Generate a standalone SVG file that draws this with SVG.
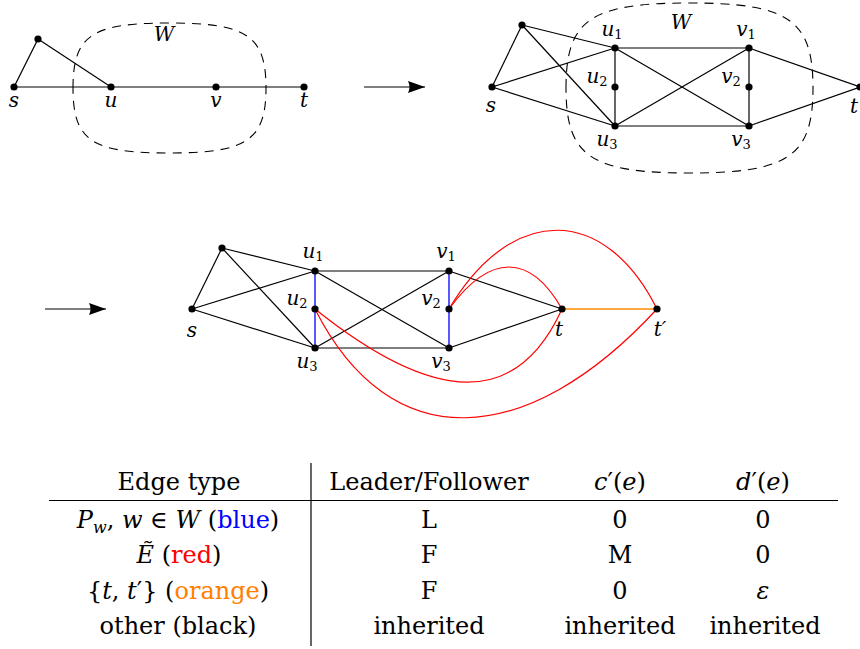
<svg xmlns="http://www.w3.org/2000/svg" width="860" height="649" viewBox="0 0 860 649">
<defs>
<marker id="ah" markerWidth="18" markerHeight="14" refX="17" refY="7" orient="auto" markerUnits="userSpaceOnUse">
<path d="M0,1 Q3,7 0,13 L17,7 Z" fill="#000"/>
</marker>
</defs>
<style>
.e{stroke:#000;stroke-width:1.2;fill:none}
.g{stroke:#555;stroke-width:1.6;fill:none}
.b{stroke:#0000ff;stroke-width:1.3;fill:none}
.r{stroke:#ff0000;stroke-width:1.2;fill:none}
.o{stroke:#ff8c00;stroke-width:1.3;fill:none}
.blob{stroke:#000;stroke-width:1.1;fill:none;stroke-dasharray:9 7}
.n{fill:#000}
.lb{font-family:'DejaVu Serif',serif;font-style:italic;font-size:20px;fill:#000}
.sub{font-style:normal;font-size:13px}
.t{font-family:'DejaVu Serif',serif;font-size:24px;fill:#000}
.i{font-style:italic}
.rule{stroke:#000;stroke-width:1.2}
</style>

<!-- Top-left graph -->
<g id="blob1"><path class="blob" d="M73,88 C73,35 92,23 169,23 C246,23 266,35 266,88 C266,141 246,153 169,153 C92,153 73,141 73,88 Z"/></g>
<g id="edges1">
<line class="e" x1="14" y1="87" x2="38" y2="39"/>
<line class="e" x1="38" y1="39" x2="111" y2="87"/>
<line class="e" x1="14" y1="87" x2="304" y2="87" stroke="#333"/>
</g>
<g id="n1-s"><circle class="n" cx="14" cy="87" r="3.6"/><text class="lb" x="14" y="107" text-anchor="middle">s</text></g>
<g id="n1-a"><circle class="n" cx="38" cy="39" r="3.6"/></g>
<g id="n1-u"><circle class="n" cx="111" cy="87" r="3.6"/><text class="lb" x="111" y="107" text-anchor="middle">u</text></g>
<g id="n1-v"><circle class="n" cx="216" cy="87" r="3.6"/><text class="lb" x="216" y="107" text-anchor="middle">v</text></g>
<g id="n1-t"><circle class="n" cx="304" cy="87" r="3.6"/><text class="lb" x="304" y="107" text-anchor="middle">t</text></g>
<text class="lb" x="164" y="41" text-anchor="middle" font-size="21">W</text>

<!-- arrows -->
<g id="arrows">
<line class="e" x1="364" y1="87" x2="425" y2="87" marker-end="url(#ah)"/>
<line class="e" x1="45" y1="309" x2="106" y2="309" marker-end="url(#ah)"/>
</g>

<!-- Top-right graph -->
<g id="blob2"><path class="blob" d="M566,88 C566,20 590,3 689.5,3 C789,3 813,20 813,88 C813,156 789,173 689.5,173 C590,173 566,156 566,88 Z"/></g>
<g id="edges2">
<line class="e" x1="492" y1="87" x2="522" y2="25"/>
<line class="e" x1="522" y1="25" x2="615" y2="48"/>
<line class="e" x1="522" y1="25" x2="615" y2="126"/>
<line class="e" x1="492" y1="87" x2="615" y2="48"/>
<line class="e" x1="492" y1="87" x2="615" y2="126"/>
<line class="e" x1="615" y1="48" x2="749" y2="48"/>
<line class="e" x1="615" y1="126" x2="749" y2="126"/>
<line class="e" x1="615" y1="48" x2="749" y2="126"/>
<line class="e" x1="615" y1="126" x2="749" y2="48"/>
<line class="e" x1="615" y1="48" x2="615" y2="126"/>
<line class="e" x1="749" y1="48" x2="749" y2="126"/>
<line class="e" x1="749" y1="48" x2="860" y2="87"/>
<line class="e" x1="749" y1="126" x2="860" y2="87"/>
</g>
<g id="n2-s"><circle class="n" cx="492" cy="87" r="3.6"/><text class="lb" x="491" y="112" text-anchor="middle">s</text></g>
<g id="n2-a"><circle class="n" cx="522" cy="25" r="3.6"/></g>
<g id="n2-u1"><circle class="n" cx="615" cy="48" r="3.6"/><text class="lb" x="612" y="36" text-anchor="middle">u<tspan class="sub" dy="3">1</tspan></text></g>
<g id="n2-u2"><circle class="n" cx="615" cy="87" r="3.6"/><text class="lb" x="597" y="83" text-anchor="middle">u<tspan class="sub" dy="3">2</tspan></text></g>
<g id="n2-u3"><circle class="n" cx="615" cy="126" r="3.6"/><text class="lb" x="607" y="146" text-anchor="middle">u<tspan class="sub" dy="3">3</tspan></text></g>
<g id="n2-v1"><circle class="n" cx="749" cy="48" r="3.6"/><text class="lb" x="746" y="36" text-anchor="middle">v<tspan class="sub" dy="3">1</tspan></text></g>
<g id="n2-v2"><circle class="n" cx="749" cy="87" r="3.6"/><text class="lb" x="731" y="83" text-anchor="middle">v<tspan class="sub" dy="3">2</tspan></text></g>
<g id="n2-v3"><circle class="n" cx="749" cy="126" r="3.6"/><text class="lb" x="741" y="146" text-anchor="middle">v<tspan class="sub" dy="3">3</tspan></text></g>
<g id="n2-t"><circle class="n" cx="860" cy="87" r="3.6"/><text class="lb" x="854" y="113" text-anchor="middle">t</text></g>
<text class="lb" x="681" y="29" text-anchor="middle">W</text>

<!-- Middle graph -->
<g id="edges3">
<line class="e" x1="192" y1="309" x2="222" y2="248"/>
<line class="e" x1="222" y1="248" x2="315" y2="271"/>
<line class="e" x1="222" y1="248" x2="315" y2="348"/>
<line class="e" x1="192" y1="309" x2="315" y2="271"/>
<line class="e" x1="192" y1="309" x2="315" y2="348"/>
<line class="g" x1="315" y1="271" x2="449" y2="271"/>
<line class="g" x1="315" y1="348" x2="449" y2="348"/>
<line class="e" x1="315" y1="271" x2="449" y2="348"/>
<line class="e" x1="315" y1="348" x2="449" y2="271"/>
<line class="b" x1="315" y1="271" x2="315" y2="348"/>
<line class="b" x1="449" y1="271" x2="449" y2="348"/>
<line class="e" x1="449" y1="271" x2="562" y2="309"/>
<line class="e" x1="449" y1="348" x2="562" y2="309"/>
<line class="o" x1="562" y1="309" x2="657" y2="309"/>
<path class="r" d="M449,309 C490,253 530,253 562,309"/>
<path class="r" d="M449,309 C512,203 605,205 657,309"/>
<path class="r" d="M315,309 C435,405 517,408 562,309"/>
<path class="r" d="M315,309 C390,458 527,450 657,309"/>
</g>
<g id="n3-s"><circle class="n" cx="192" cy="309" r="3.6"/><text class="lb" x="192" y="337" text-anchor="middle">s</text></g>
<g id="n3-a"><circle class="n" cx="222" cy="248" r="3.6"/></g>
<g id="n3-u1"><circle class="n" cx="315" cy="271" r="3.6"/><text class="lb" x="313" y="258" text-anchor="middle">u<tspan class="sub" dy="3">1</tspan></text></g>
<g id="n3-u2"><circle class="n" cx="315" cy="309" r="3.6"/><text class="lb" x="297" y="305" text-anchor="middle">u<tspan class="sub" dy="3">2</tspan></text></g>
<g id="n3-u3"><circle class="n" cx="315" cy="348" r="3.6"/><text class="lb" x="307" y="368" text-anchor="middle">u<tspan class="sub" dy="3">3</tspan></text></g>
<g id="n3-v1"><circle class="n" cx="449" cy="271" r="3.6"/><text class="lb" x="446" y="258" text-anchor="middle">v<tspan class="sub" dy="3">1</tspan></text></g>
<g id="n3-v2"><circle class="n" cx="449" cy="309" r="3.6"/><text class="lb" x="431" y="305" text-anchor="middle">v<tspan class="sub" dy="3">2</tspan></text></g>
<g id="n3-v3"><circle class="n" cx="449" cy="348" r="3.6"/><text class="lb" x="441" y="368" text-anchor="middle">v<tspan class="sub" dy="3">3</tspan></text></g>
<g id="n3-t"><circle class="n" cx="562" cy="309" r="3.6"/><text class="lb" x="559" y="336" text-anchor="middle">t</text></g>
<g id="n3-tp"><circle class="n" cx="657" cy="309" r="3.6"/><text class="lb" x="660" y="336" text-anchor="middle">t′</text></g>

<!-- Table -->
<g id="table">
<line class="rule" x1="49" y1="500.5" x2="838" y2="500.5"/>
<line class="rule" x1="311" y1="463" x2="311" y2="646"/>
<text class="t" x="179" y="490" text-anchor="middle">Edge type</text>
<text class="t" x="429" y="490" text-anchor="middle">Leader/Follower</text>
<text class="t" x="620" y="490" text-anchor="middle"><tspan class="i">c</tspan>′(<tspan class="i">e</tspan>)</text>
<text class="t" x="763" y="490" text-anchor="middle"><tspan class="i">d</tspan>′(<tspan class="i">e</tspan>)</text>

<text class="t" x="178" y="528" text-anchor="middle"><tspan class="i">P</tspan><tspan class="i" font-size="16" dy="5">w</tspan><tspan dy="-5">, </tspan><tspan class="i">w</tspan> ∈ <tspan class="i">W</tspan> (<tspan fill="#0000ff">blue</tspan>)</text>
<text class="t" x="429" y="528" text-anchor="middle">L</text>
<text class="t" x="620" y="528" text-anchor="middle">0</text>
<text class="t" x="763" y="528" text-anchor="middle">0</text>

<text class="t" x="179" y="563" text-anchor="middle"><tspan class="i">Ẽ</tspan> (<tspan fill="#ff0000">red</tspan>)</text>
<text class="t" x="429" y="563" text-anchor="middle">F</text>
<text class="t" x="620" y="563" text-anchor="middle">M</text>
<text class="t" x="763" y="563" text-anchor="middle">0</text>

<text class="t" x="178" y="599" text-anchor="middle">{<tspan class="i">t</tspan>, <tspan class="i">t</tspan>′} (<tspan fill="#ff8000">orange</tspan>)</text>
<text class="t" x="429" y="599" text-anchor="middle">F</text>
<text class="t" x="620" y="599" text-anchor="middle">0</text>
<text class="t i" x="763" y="599" text-anchor="middle">ε</text>

<text class="t" x="178" y="634" text-anchor="middle">other (black)</text>
<text class="t" x="429" y="634" text-anchor="middle">inherited</text>
<text class="t" x="620" y="634" text-anchor="middle">inherited</text>
<text class="t" x="765" y="634" text-anchor="middle">inherited</text>
</g>
</svg>
